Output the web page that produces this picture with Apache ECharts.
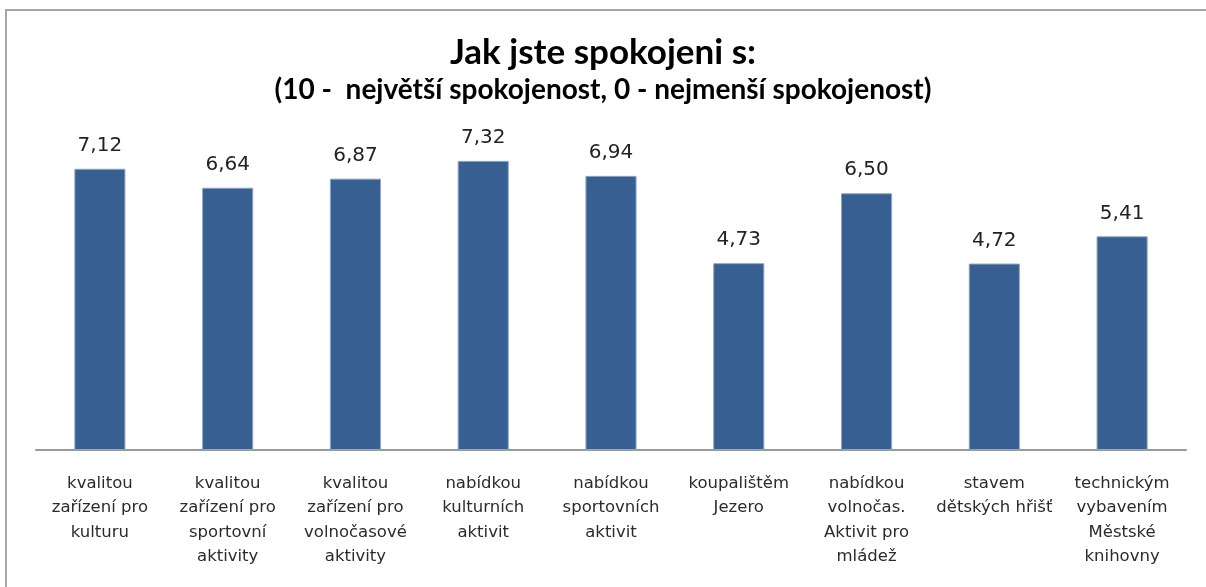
<!DOCTYPE html>
<html>
<head>
<meta charset="utf-8">
<script src="https://cdn.jsdelivr.net/npm/echarts@6/dist/echarts.min.js"></script>
<style>
  html, body { margin: 0; padding: 0; background: #fff; }
  #chart { width: 1206px; height: 587px; }
</style>
</head>
<body>
<div id="chart"></div>
<script>
// kategorie (popisky osy x, zalomené jako v originále)
const categories = [
  'kvalitou\nzařízení pro\nkulturu',
  'kvalitou\nzařízení pro\nsportovní\naktivity',
  'kvalitou\nzařízení pro\nvolnočasové\naktivity',
  'nabídkou\nkulturních\naktivit',
  'nabídkou\nsportovních\naktivit',
  'koupalištěm\nJezero',
  'nabídkou\nvolnočas.\nAktivit pro\nmládež',
  'stavem\ndětských hřišť',
  'technickým\nvybavením\nMěstské\nknihovny'
];
// průměrná spokojenost
const values = [7.12, 6.64, 6.87, 7.32, 6.94, 4.73, 6.50, 4.72, 5.41];

const titleText = 'Jak jste spokojeni s:';
const subtitleText = '(10 -  největší spokojenost, 0 - nejmenší spokojenost)';

const myChart = echarts.init(document.getElementById('chart'));

const option = {
  backgroundColor: '#fff',
  animation: false,
  title: {
    text: titleText,
    subtext: subtitleText,
    left: 'center',
    top: 30,
    itemGap: 6,
    textStyle: {
      fontFamily: 'Lato',
      fontWeight: 'bold',
      fontSize: 35,
      color: '#000'
    },
    subtextStyle: {
      fontFamily: 'Lato',
      fontWeight: 'bold',
      fontSize: 28,
      color: '#000'
    }
  },
  // rámeček jen nahoře a vlevo
  graphic: [
    {
      type: 'polyline',
      silent: true,
      shape: { points: [[6, 587], [6, 10], [1206, 10]] },
      style: { stroke: '#a6a6a6', lineWidth: 2, fill: null }
    }
  ],
  grid: {
    left: 36,
    right: 20,
    top: 134,
    bottom: 137,
    containLabel: false
  },
  xAxis: {
    type: 'category',
    data: categories,
    axisLine: { lineStyle: { color: '#9a9a9a', width: 2 } },
    axisTick: { show: false },
    axisLabel: {
      interval: 0,
      margin: 21,
      fontFamily: 'DejaVu Sans',
      fontSize: 16.5,
      lineHeight: 24.5,
      color: '#2b2b2b',
      align: 'center'
    }
  },
  yAxis: {
    type: 'value',
    min: 0,
    max: 8,
    show: false,
    splitLine: { show: false }
  },
  series: [
    {
      type: 'bar',
      data: values,
      barWidth: '40%',
      itemStyle: {
        color: '#375f92',
        borderColor: '#8fa6c4',
        borderWidth: 1
      },
      label: {
        show: true,
        position: 'top',
        distance: 13,
        fontFamily: 'DejaVu Sans',
        fontSize: 20,
        color: '#222',
        formatter: p => p.value.toFixed(2).replace('.', ',')
      }
    }
  ]
};

myChart.setOption(option);
</script>
</body>
</html>
